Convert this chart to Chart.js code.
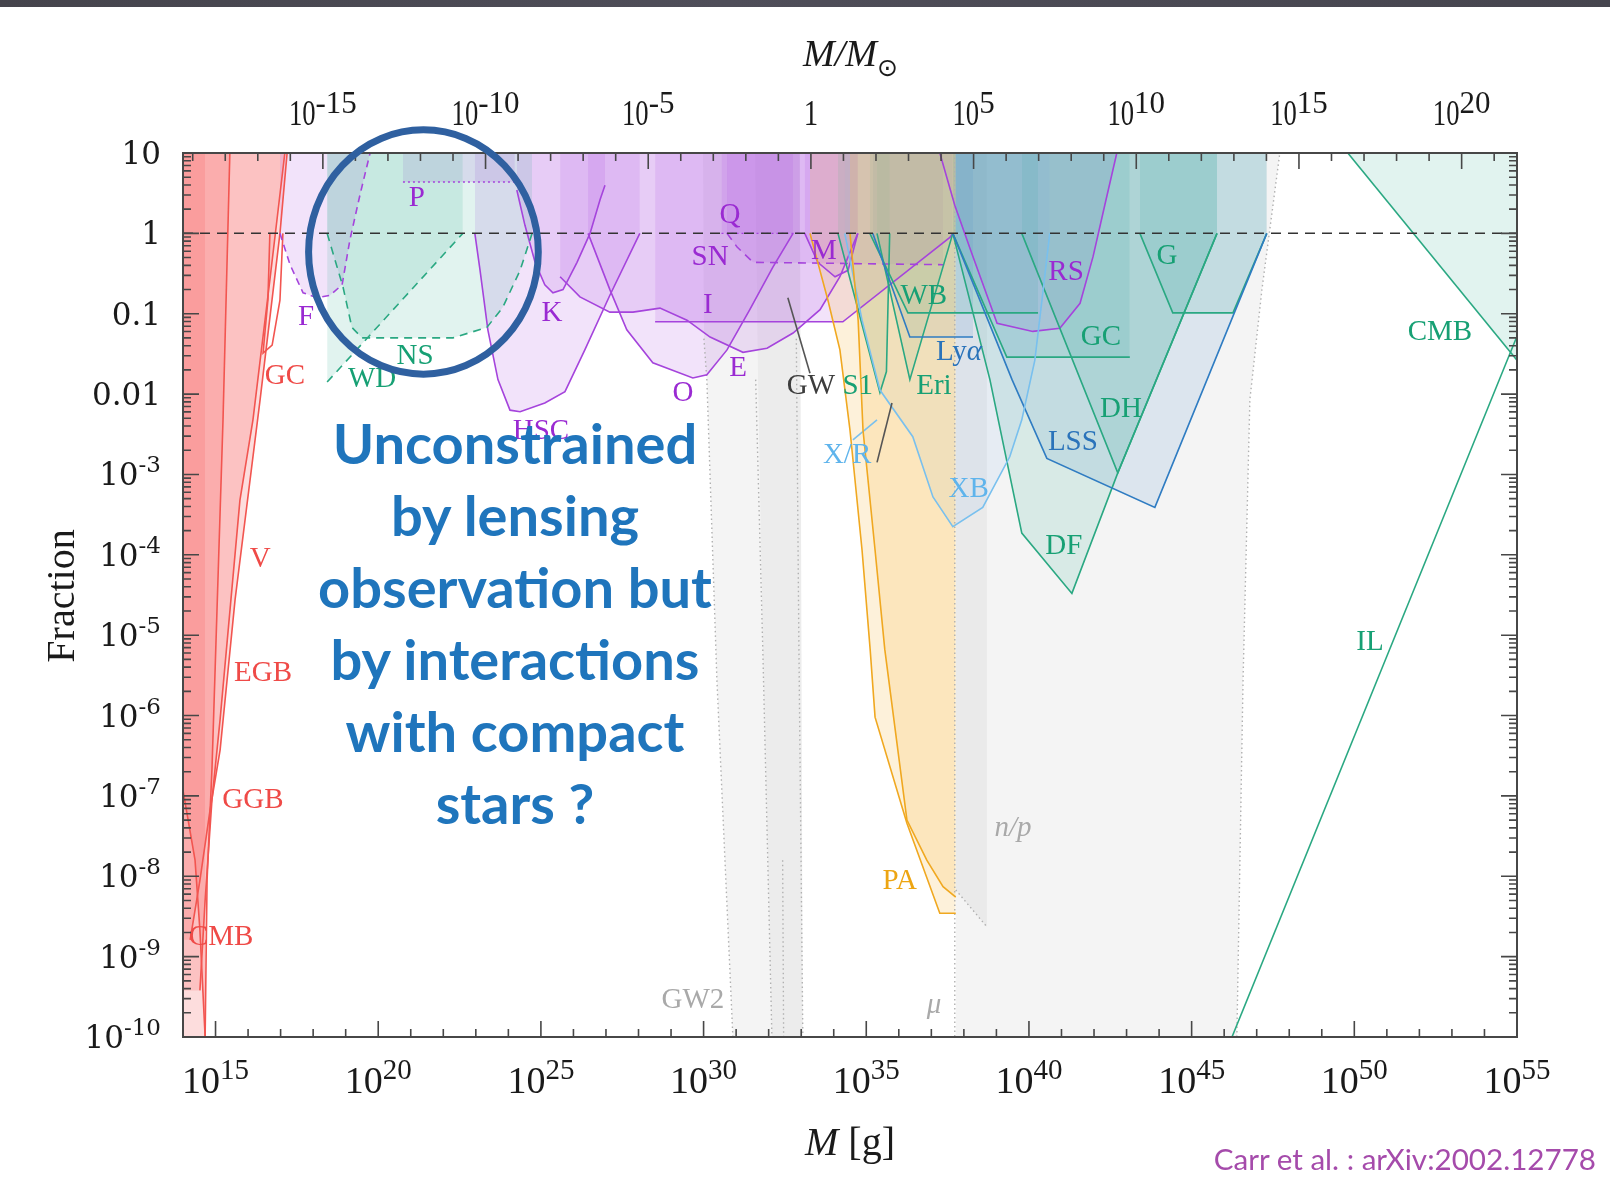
<!DOCTYPE html>
<html>
<head>
<meta charset="utf-8">
<title>Primordial black hole constraints</title>
<script src="https://cdn.jsdelivr.net/npm/chart.js@4.4.1/dist/chart.umd.min.js"></script>
<style>
  html, body { margin: 0; padding: 0; background: #ffffff; }
  #page { position: relative; width: 1610px; height: 1188px; overflow: hidden; background: #fff; }
  #topbar { position: absolute; left: 0; top: 0; width: 1610px; height: 7px;
            background: linear-gradient(90deg, #45444c 0%, #4f4e59 45%, #46454e 100%); }
  #chart { position: absolute; left: 0; top: 0; width: 1610px; height: 1188px; }
  #note { position: absolute; left: 265px; top: 407px; width: 500px; text-align: center;
          font-family: Lato, sans-serif; font-weight: 700; font-size: 56px; line-height: 72px; color: #1f75bc; }
  #credit { position: absolute; right: 14px; top: 1141px; font-family: Lato, sans-serif; font-size: 29.6px;
            color: #a54bab; white-space: nowrap; text-align: right; }
</style>
</head>
<body>
<div id="page">
  <canvas id="chart" width="1610" height="1188"></canvas>
  <div id="topbar"></div>
  <div id="note">Unconstrained<br>by lensing<br>observation but<br>by interactions<br>with compact<br>stars ?</div>
  <div id="credit">Carr et al. : arXiv:2002.12778</div>
</div>
<script>
// Axis ranges
const X_MIN = 1e14, X_MAX = 1e55;     // M [g]
const Y_MIN = 1e-10, Y_MAX = 10;      // fraction f
const LOG_MSUN = 33.2986;             // log10(M_sun / g)

// Tick labels
const massTickExps  = [15, 20, 25, 30, 35, 40, 45, 50, 55];
const solarTickExps = [-15, -10, -5, 0, 5, 10, 15, 20];
const fracTickExps  = [1, 0, -1, -2, -3, -4, -5, -6, -7, -8, -9, -10];
const fracTickText  = ['10', '1', '0.1', '0.01', '10^-3', '10^-4', '10^-5', '10^-6', '10^-7', '10^-8', '10^-9', '10^-10'];

// Constraint boundaries, each point is [log10(M / g), log10 f]
// evaporation
const evapCMB = [[14.00,-6.93],[14.37,-7.80],[14.52,-8.67],[14.68,-10]];
const evapV   = [[14.68,-10],[14.74,-8.05],[14.89,-6.67],[15.23,-2.32],[15.44,1]];
const evapEGB = [[14.52,-9.42],[14.68,-8.30],[14.89,-7.05],[15.14,-6.05],[15.75,-3.32],[16.15,-2.32],[16.67,-0.58],[17.13,1]];
const evapGGB = [[14.22,-8.79],[14.52,-8.05],[14.83,-7.18],[15.14,-6.43],[15.60,-4.56],[16.37,-2.07],[16.98,0],[17.20,1]];
const evapGC  = [[16.67,0],[16.61,-0.83],[16.46,-1.49],[16.74,-1.39],[16.98,-0.83],[17.07,0]];
// lensing
const lensF   = [[16.98,0],[17.29,-0.39],[17.69,-0.74],[18.12,-0.80],[18.52,-0.77],[18.89,-0.64],[19.13,-0.08],[19.44,0.48],[19.75,1]];
const lensP   = [[20.76,0.64],[24.20,0.64]];
const lensHSC = [[22.97,0],[23.13,-0.46],[23.37,-1.20],[23.68,-1.82],[24.05,-2.20],[24.36,-2.22],[25.12,-2.11],[25.74,-1.97],[26.35,-1.45],[27.12,-0.77],[28.04,0]];
const lensK   = [[24.26,0.54],[24.51,0.10],[24.82,-0.36],[25.12,-0.64],[25.37,-0.74],[25.68,-0.70],[26.11,-0.36],[26.51,0],[26.82,0.42],[26.97,0.60]];
const lensO   = [[26.45,0],[27.12,-0.70],[27.64,-1.20],[28.44,-1.61],[29.67,-1.80],[30.10,-1.76],[30.72,-1.45],[31.42,-0.95],[32.13,-0.42],[32.75,0]];
const lensE   = [[25.59,-0.54],[26.20,-0.79],[27.12,-0.98],[27.83,-0.98],[28.66,-0.93],[29.49,-1.08],[30.20,-1.29],[31.21,-1.48],[31.95,-1.43],[32.75,-1.24],[33.58,-0.95],[34.19,-0.54],[34.74,0]];
const lensI   = [[28.51,-1.10],[34.28,-1.10],[37.57,-0.05],[37.66,0]];
const lensSN  = [[30.72,0],[31.03,-0.17],[31.52,-0.36],[37.36,-0.39]];
const lensQ   = [[30.55,0],[32.96,0]];
const lensM   = [[33.11,0],[33.51,-0.36],[34.04,-0.54],[34.44,-0.46],[34.74,0]];
const lensRS  = [[37.26,1],[37.72,0.35],[38.20,-0.20],[39.02,-1.12],[40.12,-1.22],[40.95,-1.18],[41.57,-0.87],[41.97,-0.29],[42.33,0.35],[42.70,1]];
// compact-star and dynamical
const dynWD   = [[18.43,-1.85],[22.60,0]];
const dynNS   = [[18.43,0],[18.92,-0.67],[19.19,-1.17],[19.50,-1.30],[22.30,-1.30],[23.34,-1.17],[23.83,-0.92],[24.36,-0.46],[24.73,0]];
const dynWB   = [[35.11,0],[36.28,-0.99],[40.28,-0.99]];
const dynS1   = [[34.13,0],[35.42,-1.98],[35.62,-1.72],[35.72,0]];
const dynEri  = [[35.33,0],[36.34,-1.82],[37.66,0]];
const dynGC   = [[37.66,0],[39.32,-1.54],[43.10,-1.54]];
const dynDF   = [[37.66,0],[38.80,-1.82],[39.78,-3.73],[41.32,-4.48],[42.73,-2.98],[45.78,0]];
const dynDH   = [[39.78,0],[42.73,-2.98],[45.78,0]];
const dynG    = [[43.41,0],[44.42,-0.99],[46.27,-0.99],[47.31,0]];
const dynCMB  = [[49.80,1],[55.00,-1.58]];
const dynIL   = [[46.24,-10],[55.00,-1.28]];
// large-scale structure and X-ray
const lssLya  = [[35.20,0],[36.34,-1.29],[38.28,-1.29]];
const lssLSS  = [[37.66,0],[39.48,-1.82],[40.55,-2.80],[43.87,-3.41],[47.31,0]];
const xrayXB  = [[34.34,0],[34.87,-1.08],[35.42,-1.95],[36.43,-2.53],[37.05,-3.28],[37.66,-3.65],[38.58,-3.41],[39.41,-2.78],[39.78,-2.32],[40.18,-1.58],[40.40,-0.83],[40.64,0]];
const xrayXR  = [[34.59,-2.57],[35.33,-2.32]];
const gwLine  = [[32.59,-0.80],[33.27,-1.74]];
const gwLine2 = [[35.33,-2.85],[35.79,-2.11]];
// accretion
const accPA1  = [[33.27,0],[33.82,-0.83],[34.19,-1.45],[34.50,-2.45],[34.87,-3.94],[35.12,-5.18],[35.27,-6.02],[36.25,-7.34],[37.26,-8.46],[37.75,-8.46]];
const accPA2  = [[34.50,0],[34.75,-1.08],[34.90,-2.45],[35.27,-3.94],[35.57,-5.18],[36.25,-7.30],[36.86,-7.80],[37.36,-8.13],[37.75,-8.26]];
// background regions (closed outlines)
const bgGW2a  = [[29.98,1],[30.01,-1.31],[30.10,-1.82],[30.41,-5.56],[30.90,-10],[33.05,-10],[32.96,1]];
const bgGW2b  = [[31.58,1],[31.67,-1.82],[31.82,-5.18],[32.10,-10],[33.05,-10],[32.96,1]];
const bgMu    = [[37.75,1],[37.75,-10],[46.39,-10],[46.58,-5.56],[46.79,-2.07],[47.16,-0.70],[47.71,1]];
const bgNP    = [[37.75,1],[37.75,-8.17],[38.71,-8.63],[38.71,1]];
const dotGW1  = [[30.01,-1.31],[30.10,-1.82],[30.41,-5.56],[30.90,-10]];
const dotGW2  = [[31.60,-1.82],[31.82,-5.18],[32.10,-10]];
const dotGW3  = [[32.43,-7.80],[32.46,-10]];
const dotGW4  = [[32.85,-1.31],[32.93,-5.18],[33.05,-10]];
const dotMuL  = [[37.72,1],[37.72,-10]];
const dotMuR  = [[46.39,-10],[46.58,-5.56],[46.79,-2.07],[47.16,-0.70],[47.71,1]];
const dotNP   = [[37.75,-8.17],[38.71,-8.63]];
const unity   = [[14,0],[55,0]];

// Region labels: text, log10 M, log10 f, colour key, italic
const regionLabels = [
  ['GC', 17.13, -1.78, 'red'], ['V', 16.37, -4.06, 'red'], ['EGB', 16.46, -5.47, 'red'],
  ['GGB', 16.15, -7.05, 'red'], ['CMB', 15.17, -8.76, 'red'],
  ['F', 17.78, -1.05, 'pur'], ['P', 21.19, 0.44, 'pur'], ['K', 25.34, -0.99, 'pur'],
  ['HSC', 25.00, -2.46, 'pur'], ['Q', 30.81, 0.22, 'pur'], ['SN', 30.20, -0.30, 'pur'],
  ['M', 33.70, -0.23, 'pur'], ['I', 30.13, -0.90, 'pur'], ['O', 29.37, -1.99, 'pur'],
  ['E', 31.06, -1.68, 'pur'], ['RS', 41.14, -0.48, 'pur'],
  ['WD', 19.81, -1.82, 'grn'], ['NS', 21.13, -1.53, 'grn'], ['WB', 36.77, -0.78, 'grn'],
  ['S1', 34.74, -1.91, 'grn'], ['Eri', 37.08, -1.91, 'grn'], ['GC', 42.21, -1.29, 'grn'],
  ['DH', 42.83, -2.19, 'grn'], ['DF', 41.07, -3.90, 'grn'], ['G', 44.24, -0.29, 'grn'],
  ['CMB', 52.63, -1.23, 'grn'], ['IL', 50.48, -5.09, 'grn'],
  ['Ly|α', 37.85, -1.48, 'blu'], ['LSS', 41.35, -2.60, 'blu'],
  ['X/R', 34.41, -2.76, 'lbl'], ['XB', 38.15, -3.18, 'lbl'],
  ['GW', 33.30, -1.91, 'dgr'], ['GW2', 29.67, -9.55, 'lgr'],
  ['μ', 37.08, -9.61, 'lgr', true], ['n/p', 39.51, -7.41, 'lgr', true],
  ['PA', 36.03, -8.06, 'org']
];

// Highlight ellipse in data units: centre and half-extents in decades
const ringCentre = [21.39, -0.232];
const ringHalf = [3.53, 1.52];

const INK = {
  red: '#ef4a47', pur: '#9a2ad2', grn: '#17a074', blu: '#2a73ba', lbl: '#5fb4ec',
  dgr: '#3d3d3d', lgr: '#a9a9a9', org: '#eda512'
};
const LINE = {
  red: '#f25550', pur: '#a544dc', grn: '#2aa882', blu: '#2f7cc2', lbl: '#79c0ee',
  dgr: '#555555', org: '#f0a820', dot: '#b0b0b0', blk: '#333333'
};
const FILL = {
  red: 'rgba(245,95,95,0.21)', pur: 'rgba(175,90,228,0.17)', grn: 'rgba(55,175,145,0.15)',
  blu: 'rgba(70,135,195,0.14)', lbl: 'rgba(120,175,230,0.12)', org: 'rgba(246,190,85,0.22)',
  gry: 'rgba(0,0,0,0.045)', gry2: 'rgba(0,0,0,0.035)'
};

const datasets = [];
function add(points, o) {
  datasets.push(Object.assign({
    data: points.map(([m, f]) => ({ x: Math.pow(10, m), y: Math.pow(10, f) })),
    borderColor: 'transparent', backgroundColor: 'transparent', borderWidth: 1,
    fill: false, pointRadius: 0, pointHoverRadius: 0, tension: 0
  }, o));
}
const area  = (p, c) => add(p, { fill: 'end', backgroundColor: c });
const shape = (p, c) => add(p, { fill: 'shape', backgroundColor: c });
const edge  = (p, c, w, dash) => add(p, { borderColor: c, borderWidth: w || 1.6, borderDash: dash || [] });

// grey backgrounds
shape(bgGW2a, FILL.gry); shape(bgGW2b, FILL.gry2); shape(bgMu, FILL.gry); shape(bgNP, FILL.gry);
[dotGW1, dotGW2, dotGW3, dotGW4, dotMuL, dotMuR, dotNP].forEach(p => edge(p, LINE.dot, 1.4, [1.5, 3]));

// filled regions above each bound
area([[14, -10]].concat(evapV), FILL.red);
area([[14, -9.42]].concat(evapEGB), FILL.red);
area([[14, -8.79]].concat(evapGGB), FILL.red);
area(evapCMB, FILL.red);
[lensF, lensP, lensHSC, lensK, lensO, lensE, lensI, lensSN, lensQ, lensM, lensRS].forEach(p => area(p, FILL.pur));
[dynWD, dynNS, dynWB, dynS1, dynEri, dynGC, dynDF, dynDH, dynG, dynCMB].forEach(p => area(p, FILL.grn));
area(lssLya, FILL.blu); area(lssLSS, FILL.blu); area(xrayXB, FILL.lbl);
area(accPA1, FILL.org); area(accPA2, FILL.org);

// boundary lines
[evapCMB, evapV, evapEGB, evapGGB, evapGC].forEach(p => edge(p, LINE.red, 1.6));
edge(lensF, LINE.pur, 1.6, [7, 5]); edge(lensP, LINE.pur, 1.6, [2, 3]);
[lensHSC, lensK, lensO, lensE, lensI, lensM, lensRS].forEach(p => edge(p, LINE.pur, 1.6));
edge(lensSN, LINE.pur, 1.6, [8, 6]); edge(lensQ, LINE.pur, 1.4, [2, 3]);
edge(dynWD, LINE.grn, 1.6, [8, 6]); edge(dynNS, LINE.grn, 1.6, [8, 6]);
[dynWB, dynS1, dynEri, dynGC, dynDF, dynDH, dynG, dynCMB, dynIL].forEach(p => edge(p, LINE.grn, 1.6));
edge(lssLya, LINE.blu, 1.6); edge(lssLSS, LINE.blu, 1.6);
edge(xrayXB, LINE.lbl, 1.6); edge(xrayXR, LINE.lbl, 1.6);
edge(gwLine, LINE.dgr, 1.6); edge(gwLine2, LINE.dgr, 1.6);
edge(accPA1, LINE.org, 1.6); edge(accPA2, LINE.org, 1.6);
edge(unity, LINE.blk, 1.5, [10, 7]);

const SERIF = "'Liberation Serif', 'Times New Roman', serif";
const YSERIF = "'DejaVu Serif', serif";

function drawPow(ctx, base, exp, x, baseline, o) {
  const sx = o.sx || 1;
  ctx.font = o.fb + 'px ' + o.family;
  const wb = ctx.measureText(base).width * sx;
  let we = 0;
  if (exp) { ctx.font = o.fe + 'px ' + o.family; we = ctx.measureText(exp).width; }
  const total = wb + we;
  const left = o.align === 'right' ? x - total : x - total / 2;
  ctx.textAlign = 'left';
  ctx.textBaseline = 'alphabetic';
  ctx.font = o.fb + 'px ' + o.family;
  ctx.save(); ctx.translate(left, baseline); ctx.scale(sx, 1); ctx.fillText(base, 0, 0); ctx.restore();
  if (exp) { ctx.font = o.fe + 'px ' + o.family; ctx.fillText(exp, left + wb, baseline - o.raise); }
}

const framePlugin = {
  id: 'frameAndLabels',
  afterDatasetsDraw(chart) {
    const { ctx, chartArea: a, scales: { x, y } } = chart;
    const px = m => x.getPixelForValue(Math.pow(10, m));
    const py = f => y.getPixelForValue(Math.pow(10, f));
    ctx.save();

    // region labels
    ctx.textBaseline = 'middle';
    for (const [t, m, f, k, it] of regionLabels) {
      ctx.fillStyle = INK[k];
      const cx = px(m), cy = py(f);
      if (t.includes('|')) {
        const [a1, a2] = t.split('|');
        ctx.font = '29px ' + SERIF; const w1 = ctx.measureText(a1).width;
        ctx.font = 'italic 29px ' + SERIF; const w2 = ctx.measureText(a2).width;
        const l = cx - (w1 + w2) / 2;
        ctx.textAlign = 'left';
        ctx.font = '29px ' + SERIF; ctx.fillText(a1, l, cy);
        ctx.font = 'italic 29px ' + SERIF; ctx.fillText(a2, l + w1, cy);
      } else {
        ctx.textAlign = 'center';
        ctx.font = (it ? 'italic ' : '') + '29px ' + SERIF;
        ctx.fillText(t, cx, cy);
      }
    }

    // frame
    ctx.strokeStyle = '#474747';
    ctx.lineWidth = 2;
    ctx.strokeRect(a.left, a.top, a.right - a.left, a.bottom - a.top);

    // ticks
    ctx.lineWidth = 1.6;
    ctx.beginPath();
    for (let e = 15; e <= 54; e++) {
      const X = px(e), L = e % 5 === 0 ? 16 : 8;
      ctx.moveTo(X, a.bottom); ctx.lineTo(X, a.bottom - L);
    }
    for (let k = -19; k <= 21; k++) {
      const g = k + LOG_MSUN;
      if (g <= 14.05 || g >= 54.95) continue;
      const X = px(g), L = k % 5 === 0 ? 16 : 8;
      ctx.moveTo(X, a.top); ctx.lineTo(X, a.top + L);
    }
    for (let d = -10; d <= 1; d++) {
      const Y = py(d);
      ctx.moveTo(a.left, Y); ctx.lineTo(a.left + 16, Y);
      ctx.moveTo(a.right, Y); ctx.lineTo(a.right - 16, Y);
      if (d < 1) for (let s = 2; s <= 9; s++) {
        const Ys = py(d + Math.log10(s));
        ctx.moveTo(a.left, Ys); ctx.lineTo(a.left + 8, Ys);
        ctx.moveTo(a.right, Ys); ctx.lineTo(a.right - 8, Ys);
      }
    }
    ctx.stroke();

    // tick labels
    ctx.fillStyle = '#1a1a1a';
    for (const e of massTickExps) {
      drawPow(ctx, '10', String(e), px(e), 1093, { fb: 38, fe: 29, raise: 14, family: SERIF });
    }
    for (const k of solarTickExps) {
      const g = k + LOG_MSUN;
      if (k === 0) drawPow(ctx, '1', '', px(g), 125, { fb: 36, fe: 31, raise: 12, family: SERIF, sx: 0.8 });
      else drawPow(ctx, '10', String(k), px(g), 125, { fb: 36, fe: 31, raise: 12, family: SERIF, sx: 0.74 });
    }
    fracTickExps.forEach((d, i) => {
      const [b, e] = fracTickText[i].split('^');
      drawPow(ctx, b, e || '', 161, py(d) + 11, { fb: 31, fe: 23, raise: 13, family: YSERIF, align: 'right' });
    });

    // axis titles
    ctx.textBaseline = 'alphabetic';
    ctx.font = 'italic 38px ' + SERIF;
    const wTop = ctx.measureText('M/M').width;
    const topL = (a.left + a.right) / 2 - (wTop + 20) / 2;
    ctx.textAlign = 'left';
    ctx.fillText('M/M', topL, 66);
    ctx.font = "25px 'DejaVu Sans', sans-serif";
    ctx.fillText('\u2299', topL + wTop, 76);

    ctx.font = 'italic 40px ' + SERIF;
    const wM = ctx.measureText('M').width;
    ctx.font = '40px ' + SERIF;
    const wG = ctx.measureText(' [g]').width;
    const botL = (a.left + a.right) / 2 - (wM + wG) / 2;
    ctx.font = 'italic 40px ' + SERIF; ctx.fillText('M', botL, 1155);
    ctx.font = '40px ' + SERIF; ctx.fillText(' [g]', botL + wM, 1155);

    ctx.save();
    ctx.translate(74, 596);
    ctx.rotate(-Math.PI / 2);
    ctx.textAlign = 'center';
    ctx.font = '40px ' + SERIF;
    ctx.fillText('Fraction', 0, 0);
    ctx.restore();

    // highlight ring
    const cx = px(ringCentre[0]), cy = py(ringCentre[1]);
    const rx = px(ringCentre[0] + ringHalf[0]) - cx;
    const ry = cy - py(ringCentre[1] + ringHalf[1]);
    ctx.beginPath();
    ctx.ellipse(cx, cy, rx, ry, 0, 0, Math.PI * 2);
    ctx.strokeStyle = '#2f60a0';
    ctx.lineWidth = 7;
    ctx.stroke();

    ctx.restore();
  }
};

new Chart(document.getElementById('chart'), {
  type: 'line',
  data: { datasets: datasets.slice().reverse() },
  options: {
    responsive: false,
    devicePixelRatio: 1,
    animation: false,
    events: [],
    layout: { padding: { left: 183, top: 153, right: 93, bottom: 151 } },
    scales: {
      x: { type: 'logarithmic', min: X_MIN, max: X_MAX, display: false },
      y: { type: 'logarithmic', min: Y_MIN, max: Y_MAX, display: false }
    },
    plugins: {
      legend: { display: false },
      tooltip: { enabled: false },
      filler: { drawTime: 'beforeDatasetsDraw' }
    }
  },
  plugins: [framePlugin]
});
</script>
</body>
</html>
